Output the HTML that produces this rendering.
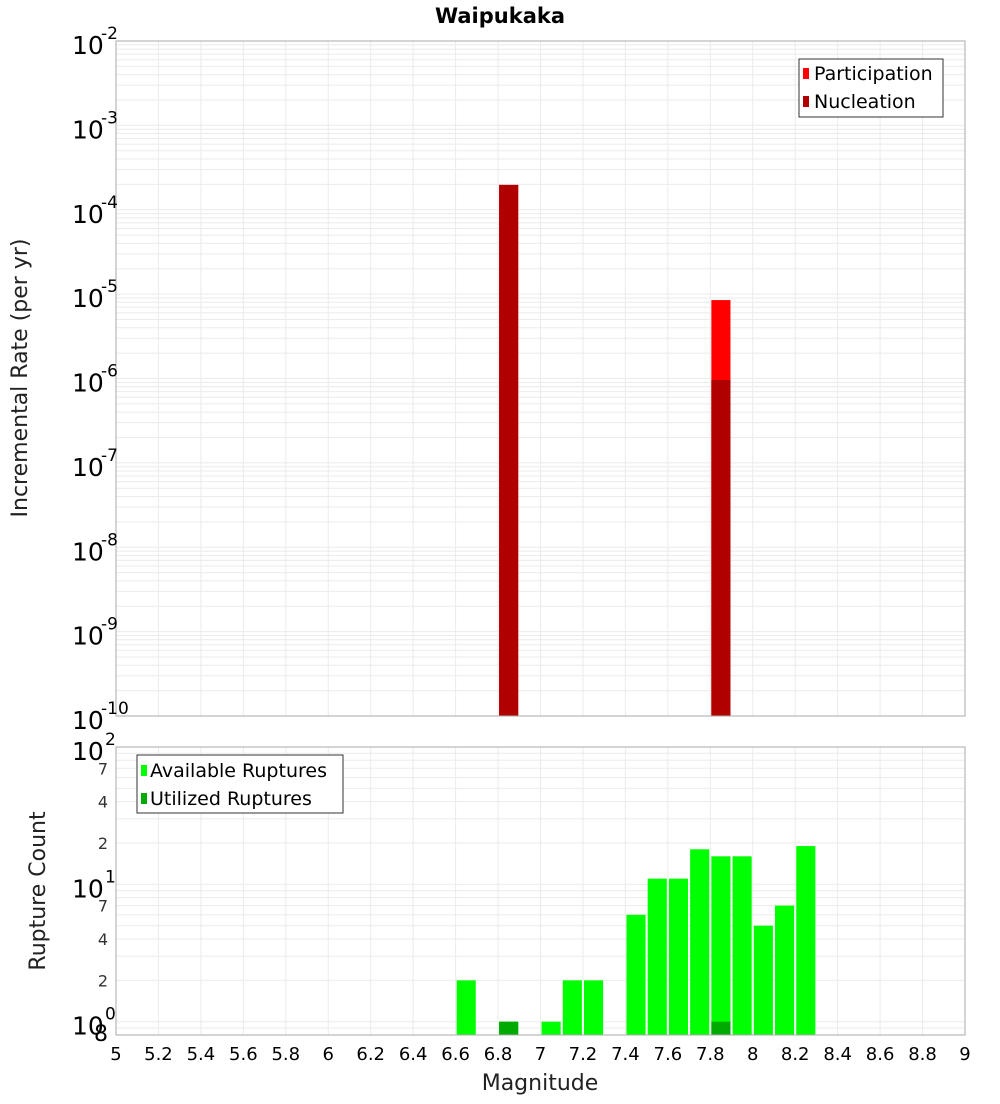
<!DOCTYPE html>
<html><head><meta charset="utf-8"><style>
body{margin:0;background:#fff;font-family:"DejaVu Sans","Liberation Sans",sans-serif}
</style></head><body>
<svg width="1000" height="1100" xmlns="http://www.w3.org/2000/svg" id="chart" font-family="DejaVu Sans, Liberation Sans, sans-serif">
<text x="500" y="23" text-anchor="middle" font-size="21" font-weight="bold">Waipukaka</text>
<g id="topPlot"></g>
<g id="botPlot"></g>
<text transform="translate(27,378) rotate(-90)" text-anchor="middle" font-size="22" fill="#222">Incremental Rate (per yr)</text>
<text transform="translate(45,891) rotate(-90)" text-anchor="middle" font-size="22" fill="#222">Rupture Count</text>
<text x="540" y="1090" text-anchor="middle" font-size="22" fill="#222">Magnitude</text>
<g id="legends">
<g>
<rect x="799" y="59" width="144" height="58" fill="#fff" stroke="#333"/>
<rect x="803" y="68" width="6" height="11" fill="#ff0000"/>
<text x="814" y="80" font-size="19">Participation</text>
<rect x="803" y="96" width="6" height="11" fill="#b00000"/>
<text x="814" y="108" font-size="19">Nucleation</text>
</g>
<g>
<rect x="137" y="755" width="206" height="58" fill="#fff" stroke="#333"/>
<rect x="141" y="765" width="6" height="11" fill="#00ff00"/>
<text x="150" y="777" font-size="19">Available Ruptures</text>
<rect x="141" y="793" width="6" height="11" fill="#00aa00"/>
<text x="150" y="805" font-size="19">Utilized Ruptures</text>
</g>
</g>
</svg>
<script>
const rateMags=[6.85,7.85];
const participation=[1.97e-4,8.5e-6];
const nucleation=[1.97e-4,9.6e-7];
const countMags=[6.65,6.85,7.05,7.15,7.25,7.45,7.55,7.65,7.75,7.85,7.95,8.05,8.15,8.25];
const available=[2,1,1,2,2,6,11,11,18,16,16,5,7,19];
const utilMags=[6.85,7.85];
const utilized=[1,1];
const xTicks=[5,5.2,5.4,5.6,5.8,6,6.2,6.4,6.6,6.8,7,7.2,7.4,7.6,7.8,8,8.2,8.4,8.6,8.8,9];
const topExps=[-2,-3,-4,-5,-6,-7,-8,-9,-10];
const botMinor=[2,4,7,20,40,70];

const NS='http://www.w3.org/2000/svg';
const L=116,R=965;
const xs=m=>L+(m-5)/4*(R-L);
const T0=41,T1=716;
const yT=v=>T0+(-2-Math.log10(v))/8*(T1-T0);
const B0=747,B1=1035;
const yB=v=>B0+(Math.log10(100)-Math.log10(v))/Math.log10(100/0.8)*(B1-B0);
function mk(p,tag,a,txt){const e=document.createElementNS(NS,tag);for(const k in a)e.setAttribute(k,a[k]);if(txt!=null)e.textContent=txt;p.appendChild(e);return e;}
const gTop=document.getElementById('topPlot'),gBot=document.getElementById('botPlot');
for(let e=-10;e<-2;e++)for(let k=1;k<10;k++){const yy=yT(k*Math.pow(10,e));const g=mk(gTop,'line',{x1:L,x2:R,y1:yy,y2:yy,stroke:'#ebebeb'});

}
for(const t of xTicks){for(const [p,a,b] of [[gTop,T0,T1],[gBot,B0,B1]]){const g=mk(p,'line',{x1:xs(t),x2:xs(t),y1:a,y2:b,stroke:'#ebebeb'});

}}
for(let e=-1;e<2;e++)for(let k=1;k<10;k++){const v=k*Math.pow(10,e);if(v<0.8)continue;const yy=yB(v);const g=mk(gBot,'line',{x1:L,x2:R,y1:yy,y2:yy,stroke:'#ebebeb'});

}
const bw=0.09;
rateMags.forEach((m,i)=>{
const a=mk(gTop,'rect',{x:xs(m-bw/2),y:yT(participation[i]),width:xs(m+bw/2)-xs(m-bw/2),height:T1-yT(participation[i]),fill:'#ff0000'});


const b=mk(gTop,'rect',{x:xs(m-bw/2),y:yT(nucleation[i]),width:xs(m+bw/2)-xs(m-bw/2),height:T1-yT(nucleation[i]),fill:'#b00000'});

});
countMags.forEach((m,i)=>{const r=mk(gBot,'rect',{x:xs(m-bw/2),y:yB(available[i]),width:xs(m+bw/2)-xs(m-bw/2),height:B1-yB(available[i]),fill:'#00ff00'});

});
utilMags.forEach((m,i)=>{const r=mk(gBot,'rect',{x:xs(m-bw/2),y:yB(utilized[i]),width:xs(m+bw/2)-xs(m-bw/2),height:B1-yB(utilized[i]),fill:'#00aa00'});

});
mk(gTop,'rect',{x:L,y:T0,width:R-L,height:T1-T0,fill:'none',stroke:'#aaa'});
mk(gBot,'rect',{x:L,y:B0,width:R-L,height:B1-B0,fill:'none',stroke:'#aaa'});
topExps.forEach(e=>{const yy=yT(Math.pow(10,e));const t=mk(gTop,'text',{x:72,y:yy+13,'font-size':25},'10');


mk(gTop,'text',{x:101,y:yy-2,'font-size':17},String(e));});
[[100,'2'],[10,'1'],[1,'0']].forEach(([v,e])=>{const yy=yB(v);const t=mk(gBot,'text',{x:72,y:yy+13,'font-size':25},'10');


mk(gBot,'text',{x:105,y:yy-2,'font-size':17},e);});
botMinor.forEach(v=>{const t=mk(gBot,'text',{x:108,y:yB(v)+6,'font-size':16,fill:'#333','text-anchor':'end'},String(v).charAt(0));

});
mk(gBot,'text',{x:108,y:1041,'font-size':22,'text-anchor':'end'},'8');
xTicks.forEach(t=>{const e=mk(gBot,'text',{x:xs(t),y:1060,'font-size':18,'text-anchor':'middle'},String(t));

});
document.getElementById('chart').appendChild(document.getElementById('legends'));
</script>
</body></html>
